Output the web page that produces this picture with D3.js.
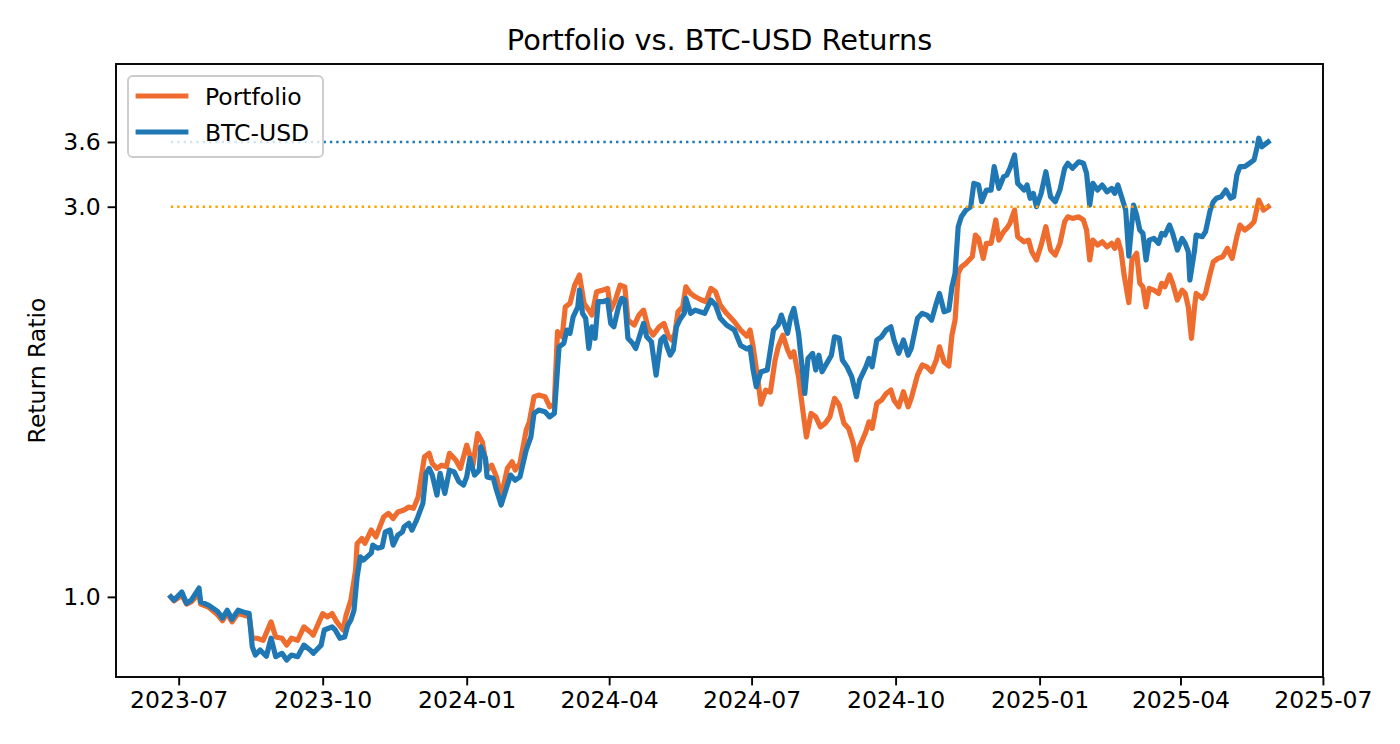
<!DOCTYPE html>
<html>
<head>
<meta charset="utf-8">
<script src="https://cdn.jsdelivr.net/npm/d3@7"></script>
<style>
  body { margin: 0; background: #fff; }
  svg text { font-family: "DejaVu Sans", sans-serif; fill: #000; }
</style>
</head>
<body>
<svg id="chart" width="1400" height="744"></svg>
<script>
// series names / colours
var seriesNames = ['Portfolio', 'BTC-USD'];
var seriesColors = ['#ee6c2d', '#1f77b4'];
var refColors = ['#ffa500', '#1f77b4'];

// y ticks shown on the log axis
var yTicks = [1.0, 3.0, 3.6];
var yTickLabels = ['1.0', '3.0', '3.6'];
var yDomain = [0.798, 4.484];

// return ratio
var portfolioData = [
  ['2023-06-26',1.000],['2023-06-28',0.989],['2023-07-03',1.005],['2023-07-06',0.980],['2023-07-09',0.986],
  ['2023-07-14',1.010],['2023-07-15',0.980],['2023-07-20',0.972],['2023-07-26',0.950],['2023-07-29',0.935],
  ['2023-08-01',0.955],['2023-08-04',0.932],['2023-08-08',0.955],['2023-08-13',0.948],['2023-08-15',0.948],
  ['2023-08-17',0.890],['2023-08-20',0.890],['2023-08-24',0.885],['2023-08-29',0.932],['2023-09-01',0.893],
  ['2023-09-05',0.890],['2023-09-08',0.873],['2023-09-11',0.890],['2023-09-15',0.885],['2023-09-19',0.919],
  ['2023-09-23',0.906],['2023-09-25',0.898],['2023-10-01',0.954],['2023-10-04',0.945],['2023-10-07',0.954],
  ['2023-10-10',0.932],['2023-10-14',0.911],['2023-10-16',0.950],['2023-10-19',0.991],['2023-10-22',1.078],
  ['2023-10-23',1.162],['2023-10-26',1.179],['2023-10-28',1.163],['2023-11-01',1.207],['2023-11-04',1.184],
  ['2023-11-09',1.253],['2023-11-12',1.265],['2023-11-15',1.247],['2023-11-18',1.270],['2023-11-22',1.277],
  ['2023-11-25',1.288],['2023-11-28',1.283],['2023-12-01',1.325],['2023-12-05',1.483],['2023-12-08',1.498],
  ['2023-12-10',1.456],['2023-12-13',1.436],['2023-12-16',1.449],['2023-12-19',1.443],['2023-12-21',1.498],
  ['2023-12-25',1.470],['2023-12-28',1.436],['2024-01-01',1.533],['2024-01-05',1.449],['2024-01-08',1.584],
  ['2024-01-11',1.547],['2024-01-14',1.429],['2024-01-17',1.449],['2024-01-20',1.402],['2024-01-23',1.325],
  ['2024-01-27',1.436],['2024-01-30',1.463],['2024-02-01',1.429],['2024-02-04',1.456],['2024-02-08',1.599],
  ['2024-02-10',1.637],['2024-02-13',1.757],['2024-02-16',1.765],['2024-02-20',1.757],['2024-02-23',1.708],
  ['2024-02-26',1.724],['2024-02-28',2.110],['2024-03-02',2.080],['2024-03-04',2.263],['2024-03-07',2.285],
  ['2024-03-10',2.406],['2024-03-13',2.475],['2024-03-16',2.285],['2024-03-19',2.242],['2024-03-21',2.211],
  ['2024-03-24',2.361],['2024-03-28',2.372],['2024-03-31',2.384],['2024-04-02',2.242],['2024-04-05',2.307],
  ['2024-04-08',2.406],['2024-04-11',2.394],['2024-04-13',2.180],['2024-04-17',2.150],['2024-04-20',2.211],
  ['2024-04-23',2.242],['2024-04-26',2.130],['2024-04-29',2.090],['2024-05-03',2.139],['2024-05-06',2.160],
  ['2024-05-09',2.080],['2024-05-11',2.061],['2024-05-13',2.100],['2024-05-15',2.232],['2024-05-18',2.263],
  ['2024-05-20',2.394],['2024-05-23',2.350],['2024-05-26',2.328],['2024-05-30',2.307],['2024-06-02',2.296],
  ['2024-06-05',2.384],['2024-06-08',2.361],['2024-06-11',2.274],['2024-06-15',2.222],['2024-06-20',2.170],
  ['2024-06-24',2.120],['2024-06-28',2.084],['2024-06-30',2.120],['2024-07-02',2.022],['2024-07-05',1.841],
  ['2024-07-07',1.721],['2024-07-10',1.790],['2024-07-13',1.780],['2024-07-16',1.948],['2024-07-18',2.022],
  ['2024-07-21',2.090],['2024-07-24',2.004],['2024-07-26',1.966],['2024-07-28',1.994],['2024-07-31',1.858],
  ['2024-08-03',1.676],['2024-08-05',1.569],['2024-08-08',1.676],['2024-08-11',1.660],['2024-08-14',1.614],
  ['2024-08-17',1.630],['2024-08-20',1.660],['2024-08-23',1.749],['2024-08-26',1.716],['2024-08-29',1.630],
  ['2024-09-01',1.607],['2024-09-04',1.540],['2024-09-06',1.470],['2024-09-08',1.526],['2024-09-12',1.592],
  ['2024-09-14',1.637],['2024-09-16',1.607],['2024-09-19',1.724],['2024-09-22',1.740],['2024-09-25',1.773],
  ['2024-09-28',1.790],['2024-09-30',1.740],['2024-10-03',1.708],['2024-10-06',1.782],['2024-10-09',1.708],
  ['2024-10-11',1.749],['2024-10-15',1.867],['2024-10-18',1.921],['2024-10-21',1.911],['2024-10-24',1.885],
  ['2024-10-27',1.948],['2024-10-29',2.022],['2024-11-01',1.937],['2024-11-04',1.915],['2024-11-06',2.090],
  ['2024-11-08',2.180],['2024-11-10',2.487],['2024-11-12',2.533],['2024-11-15',2.558],['2024-11-19',2.606],
  ['2024-11-21',2.770],['2024-11-23',2.744],['2024-11-26',2.594],['2024-11-28',2.706],['2024-12-01',2.706],
  ['2024-12-04',2.890],['2024-12-06',2.731],['2024-12-09',2.796],['2024-12-11',2.823],['2024-12-13',2.863],
  ['2024-12-16',2.972],['2024-12-18',2.757],['2024-12-22',2.718],['2024-12-25',2.731],['2024-12-27',2.643],
  ['2024-12-30',2.582],['2025-01-02',2.693],['2025-01-05',2.836],['2025-01-08',2.656],['2025-01-11',2.618],
  ['2025-01-14',2.706],['2025-01-17',2.876],['2025-01-19',2.916],['2025-01-22',2.903],['2025-01-26',2.916],
  ['2025-01-29',2.890],['2025-01-31',2.809],['2025-02-02',2.582],['2025-02-04',2.731],['2025-02-07',2.693],
  ['2025-02-10',2.718],['2025-02-13',2.680],['2025-02-16',2.706],['2025-02-18',2.668],['2025-02-20',2.731],
  ['2025-02-22',2.648],['2025-02-24',2.475],['2025-02-27',2.290],['2025-03-01',2.582],['2025-03-04',2.631],
  ['2025-03-06',2.420],['2025-03-08',2.394],['2025-03-10',2.263],['2025-03-12',2.384],['2025-03-15',2.372],
  ['2025-03-18',2.350],['2025-03-20',2.418],['2025-03-22',2.394],['2025-03-25',2.475],['2025-03-27',2.418],
  ['2025-03-30',2.307],['2025-04-02',2.372],['2025-04-04',2.350],['2025-04-06',2.263],['2025-04-08',2.071],
  ['2025-04-10',2.263],['2025-04-11',2.350],['2025-04-15',2.318],['2025-04-17',2.350],['2025-04-20',2.487],
  ['2025-04-22',2.569],['2025-04-25',2.594],['2025-04-28',2.606],['2025-05-01',2.668],['2025-05-04',2.594],
  ['2025-05-07',2.757],['2025-05-09',2.849],['2025-05-12',2.809],['2025-05-15',2.836],['2025-05-18',2.876],
  ['2025-05-21',3.057],['2025-05-24',2.972],['2025-05-27',3.000]
];

var btcData = [
  ['2023-06-26',1.000],['2023-06-28',0.991],['2023-07-03',1.014],['2023-07-06',0.982],['2023-07-09',0.991],
  ['2023-07-14',1.025],['2023-07-15',0.986],['2023-07-20',0.977],['2023-07-26',0.959],['2023-07-29',0.942],
  ['2023-08-01',0.963],['2023-08-04',0.939],['2023-08-08',0.963],['2023-08-13',0.956],['2023-08-15',0.955],
  ['2023-08-17',0.869],['2023-08-19',0.849],['2023-08-22',0.861],['2023-08-26',0.846],['2023-08-29',0.890],
  ['2023-09-01',0.845],['2023-09-05',0.853],['2023-09-08',0.837],['2023-09-11',0.849],['2023-09-15',0.845],
  ['2023-09-19',0.873],['2023-09-23',0.861],['2023-09-25',0.853],['2023-09-30',0.873],['2023-10-02',0.911],
  ['2023-10-07',0.919],['2023-10-09',0.911],['2023-10-12',0.890],['2023-10-15',0.893],['2023-10-17',0.923],
  ['2023-10-19',0.937],['2023-10-21',0.963],['2023-10-23',1.058],['2023-10-25',1.119],['2023-10-27',1.109],
  ['2023-11-01',1.131],['2023-11-02',1.157],['2023-11-05',1.147],['2023-11-08',1.151],['2023-11-10',1.201],
  ['2023-11-13',1.207],['2023-11-15',1.157],['2023-11-18',1.190],['2023-11-21',1.201],['2023-11-22',1.218],
  ['2023-11-25',1.230],['2023-11-27',1.207],['2023-11-30',1.241],['2023-12-04',1.301],['2023-12-06',1.416],
  ['2023-12-08',1.436],['2023-12-10',1.409],['2023-12-13',1.332],['2023-12-15',1.416],['2023-12-18',1.338],
  ['2023-12-21',1.429],['2023-12-24',1.422],['2023-12-27',1.383],['2023-12-30',1.370],['2024-01-01',1.402],
  ['2024-01-03',1.477],['2024-01-06',1.409],['2024-01-09',1.429],['2024-01-10',1.526],['2024-01-13',1.477],
  ['2024-01-14',1.402],['2024-01-18',1.396],['2024-01-20',1.351],['2024-01-23',1.295],['2024-01-26',1.351],
  ['2024-01-29',1.409],['2024-02-01',1.389],['2024-02-04',1.402],['2024-02-08',1.512],['2024-02-11',1.569],
  ['2024-02-13',1.676],['2024-02-16',1.692],['2024-02-20',1.684],['2024-02-23',1.660],['2024-02-26',1.676],
  ['2024-02-29',2.022],['2024-03-03',2.042],['2024-03-05',2.120],['2024-03-07',2.100],['2024-03-09',2.200],
  ['2024-03-12',2.263],['2024-03-13',2.372],['2024-03-15',2.222],['2024-03-17',2.191],['2024-03-19',2.013],
  ['2024-03-21',2.139],['2024-03-23',2.071],['2024-03-25',2.296],['2024-03-28',2.296],['2024-03-31',2.307],
  ['2024-04-02',2.160],['2024-04-04',2.139],['2024-04-07',2.263],['2024-04-09',2.318],['2024-04-11',2.307],
  ['2024-04-13',2.071],['2024-04-16',2.042],['2024-04-18',2.013],['2024-04-21',2.100],['2024-04-23',2.160],
  ['2024-04-25',2.080],['2024-04-28',2.051],['2024-05-01',1.867],['2024-05-04',2.061],['2024-05-06',2.080],
  ['2024-05-08',2.022],['2024-05-10',1.975],['2024-05-12',2.004],['2024-05-14',2.139],['2024-05-16',2.180],
  ['2024-05-19',2.222],['2024-05-20',2.318],['2024-05-23',2.222],['2024-05-26',2.242],['2024-05-29',2.232],
  ['2024-06-01',2.222],['2024-06-05',2.307],['2024-06-08',2.274],['2024-06-11',2.191],['2024-06-15',2.150],
  ['2024-06-20',2.120],['2024-06-24',2.030],['2024-06-28',2.010],['2024-06-30',2.020],['2024-07-02',1.894],
  ['2024-07-04',1.807],['2024-07-07',1.885],['2024-07-11',1.894],['2024-07-15',2.120],['2024-07-18',2.150],
  ['2024-07-20',2.211],['2024-07-24',2.100],['2024-07-26',2.200],['2024-07-28',2.253],['2024-07-31',2.100],
  ['2024-08-02',1.930],['2024-08-04',1.773],['2024-08-06',1.957],['2024-08-09',1.985],['2024-08-11',1.894],
  ['2024-08-13',1.975],['2024-08-15',1.885],['2024-08-18',1.930],['2024-08-21',1.975],['2024-08-23',2.080],
  ['2024-08-26',2.071],['2024-08-28',1.948],['2024-08-31',1.911],['2024-09-03',1.858],['2024-09-06',1.757],
  ['2024-09-08',1.841],['2024-09-12',1.911],['2024-09-14',1.957],['2024-09-16',1.911],['2024-09-19',2.061],
  ['2024-09-22',2.080],['2024-09-25',2.120],['2024-09-28',2.139],['2024-09-30',2.061],['2024-10-03',1.985],
  ['2024-10-06',2.061],['2024-10-09',1.975],['2024-10-11',2.013],['2024-10-15',2.191],['2024-10-18',2.222],
  ['2024-10-21',2.211],['2024-10-24',2.180],['2024-10-27',2.285],['2024-10-29',2.350],['2024-11-01',2.232],
  ['2024-11-04',2.242],['2024-11-06',2.394],['2024-11-08',2.487],['2024-11-10',2.836],['2024-11-12',2.916],
  ['2024-11-15',2.972],['2024-11-18',3.000],['2024-11-20',3.204],['2024-11-23',3.189],['2024-11-25',3.043],
  ['2024-11-28',3.144],['2024-12-01',3.144],['2024-12-03',3.358],['2024-12-06',3.159],['2024-12-09',3.264],
  ['2024-12-11',3.280],['2024-12-13',3.343],['2024-12-16',3.470],['2024-12-18',3.204],['2024-12-22',3.144],
  ['2024-12-24',3.189],['2024-12-26',3.072],['2024-12-28',3.115],['2024-12-30',3.000],['2025-01-02',3.115],
  ['2025-01-05',3.311],['2025-01-08',3.086],['2025-01-11',3.043],['2025-01-14',3.144],['2025-01-17',3.343],
  ['2025-01-19',3.390],['2025-01-22',3.343],['2025-01-26',3.405],['2025-01-29',3.390],['2025-01-31',3.296],
  ['2025-02-02',3.014],['2025-02-04',3.204],['2025-02-07',3.144],['2025-02-10',3.189],['2025-02-13',3.129],
  ['2025-02-16',3.159],['2025-02-18',3.115],['2025-02-20',3.189],['2025-02-22',3.100],['2025-02-25',2.972],
  ['2025-02-27',2.611],['2025-03-02',3.014],['2025-03-04',2.931],['2025-03-06',2.809],['2025-03-08',2.783],
  ['2025-03-10',2.582],['2025-03-12',2.731],['2025-03-15',2.744],['2025-03-18',2.706],['2025-03-20',2.783],
  ['2025-03-22',2.770],['2025-03-25',2.849],['2025-03-27',2.783],['2025-03-30',2.656],['2025-04-02',2.744],
  ['2025-04-04',2.706],['2025-04-06',2.643],['2025-04-07',2.440],['2025-04-10',2.656],['2025-04-11',2.770],
  ['2025-04-15',2.757],['2025-04-17',2.796],['2025-04-20',2.972],['2025-04-22',3.043],['2025-04-24',3.072],
  ['2025-04-27',3.086],['2025-04-30',3.144],['2025-05-03',3.072],['2025-05-05',3.086],['2025-05-07',3.280],
  ['2025-05-09',3.358],['2025-05-12',3.358],['2025-05-15',3.390],['2025-05-18',3.422],['2025-05-20',3.552],
  ['2025-05-21',3.638],['2025-05-23',3.552],['2025-05-27',3.600]
];

var W = 1400, H = 744;
var margin = {t:64, r:77, b:67, l:116};
var plotWidth = W - margin.l - margin.r,
    plotHeight = H - margin.t - margin.b;
var fontSize = 23.5;

var parse = d3.utcParse('%Y-%m-%d');
var series = [portfolioData, btcData].map(function(arr, i){
    return {
        name: seriesNames[i],
        color: seriesColors[i],
        ref: refColors[i],
        values: arr.map(function(d){ return {date: parse(d[0]), value: d[1]}; })
    };
});

// matplotlib style 5% padding on the x range
var ext = d3.extent(series[0].values, function(d){ return d.date; });
var span = ext[1] - ext[0];
var x = d3.scaleUtc()
    .domain([new Date(+ext[0] - span*0.05), new Date(+ext[1] + span*0.05)])
    .range([0, plotWidth]);
var y = d3.scaleLog()
    .domain(yDomain)
    .range([plotHeight, 0]);

var svg = d3.select('#chart');
svg.append('rect').attr('width', W).attr('height', H).style('fill', '#fff');

svg.append('text')
    .attr('x', margin.l + plotWidth/2)
    .attr('y', 50)
    .attr('text-anchor', 'middle')
    .style('font-size', '28.8px')
    .text('Portfolio vs. BTC-USD Returns');

var plot = svg.append('g')
    .attr('transform', 'translate(' + margin.l + ',' + margin.t + ')');

var line = d3.line()
    .x(function(d){ return x(d.date); })
    .y(function(d){ return y(d.value); });

series.forEach(function(s){
    plot.append('path')
        .datum(s.values)
        .attr('d', line)
        .style('fill', 'none')
        .style('stroke', s.color)
        .style('stroke-width', 5.2)
        .style('stroke-linejoin', 'round')
        .style('stroke-linecap', 'square');
});

// dotted reference lines at the final value of each series
series.forEach(function(s){
    var last = s.values[s.values.length - 1];
    plot.append('line')
        .attr('x1', x(s.values[0].date))
        .attr('x2', x(last.date))
        .attr('y1', y(last.value))
        .attr('y2', y(last.value))
        .style('stroke', s.ref)
        .style('stroke-width', 2.4)
        .style('stroke-dasharray', '2.4 3.96');
});

// axes
var xAxis = d3.axisBottom(x)
    .ticks(d3.utcMonth.every(3))
    .tickFormat(d3.utcFormat('%Y-%m'))
    .tickSize(8.4)
    .tickPadding(6);
var yAxis = d3.axisLeft(y)
    .tickValues(yTicks)
    .tickFormat(function(d, i){ return yTickLabels[i]; })
    .tickSize(8.4)
    .tickPadding(7);

var gx = plot.append('g')
    .attr('transform', 'translate(0,' + plotHeight + ')')
    .call(xAxis);
var gy = plot.append('g').call(yAxis);

[gx, gy].forEach(function(g){
    g.select('.domain').remove();
    g.selectAll('.tick line').style('stroke', '#000').style('stroke-width', 1.9);
    g.selectAll('.tick text')
        .style('font-family', '"DejaVu Sans", sans-serif')
        .style('font-size', fontSize + 'px')
        .style('fill', '#000');
});

plot.append('rect')
    .attr('width', plotWidth)
    .attr('height', plotHeight)
    .style('fill', 'none')
    .style('stroke', '#000')
    .style('stroke-width', 1.9);

svg.append('text')
    .attr('transform', 'translate(45,' + (margin.t + plotHeight/2) + ') rotate(-90)')
    .attr('text-anchor', 'middle')
    .style('font-size', fontSize + 'px')
    .text('Return Ratio');

// legend
var legend = svg.append('g').attr('transform', 'translate(128,76)');
legend.append('rect')
    .attr('width', 195)
    .attr('height', 81)
    .attr('rx', 4.8)
    .style('fill', 'rgba(255,255,255,0.8)')
    .style('stroke', '#cccccc')
    .style('stroke-width', 1.9);

var item = legend.selectAll('.item')
    .data(series)
    .enter().append('g')
    .attr('class', 'item')
    .attr('transform', function(d, i){ return 'translate(0,' + (20 + i*36) + ')'; });
item.append('line')
    .attr('x1', 10).attr('x2', 58)
    .style('stroke', function(d){ return d.color; })
    .style('stroke-width', 4.8)
    .style('stroke-linecap', 'square');
item.append('text')
    .attr('x', 77)
    .attr('y', 8.5)
    .style('font-size', fontSize + 'px')
    .text(function(d){ return d.name; });
</script>
</body>
</html>
